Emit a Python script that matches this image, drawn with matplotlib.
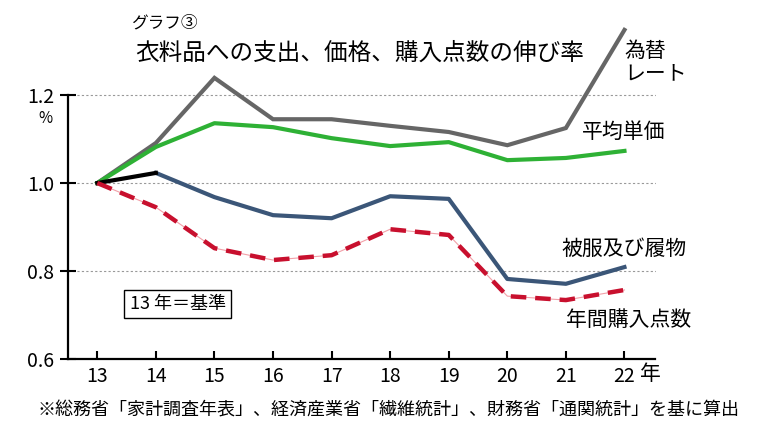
import matplotlib
matplotlib.use("Agg")
import matplotlib.pyplot as plt
from matplotlib.transforms import blended_transform_factory

plt.rcParams['font.family'] = ['Noto Sans CJK JP', 'DejaVu Sans']

years = [13, 14, 15, 16, 17, 18, 19, 20, 21, 22]
year_labels = ['13', '14', '15', '16', '17', '18', '19', '20', '21', '22']

# 伸び率 (13年=1.0)
kawase = [1.0, 1.091, 1.239, 1.145, 1.145, 1.130, 1.116, 1.086, 1.125, 1.348]
tanka = [1.0, 1.082, 1.136, 1.127, 1.102, 1.084, 1.093, 1.052, 1.057, 1.073]
hifuku = [1.0, 1.023, 0.968, 0.927, 0.920, 0.970, 0.964, 0.782, 0.771, 0.809]
tensu = [1.0, 0.945, 0.852, 0.825, 0.836, 0.895, 0.882, 0.743, 0.734, 0.757]

fig = plt.figure(figsize=(7.6, 4.4), dpi=100)
ax = fig.add_axes([0.0895, 0.184, 0.773, 0.76])

for yv in [0.8, 1.0, 1.2]:
    ax.axhline(yv, color='#999999', lw=0.8, ls=(0, (2, 2)), zorder=1)

ax.plot(years, kawase, color='#666666', lw=3, zorder=3, solid_joinstyle='miter')
ax.plot(years, tanka, color='#2eb135', lw=3, zorder=4)
ax.plot(years[1:], hifuku[1:], color='#3b5678', lw=3, zorder=4)
ax.plot(years[:2], hifuku[:2], color='black', lw=3, zorder=5)
ax.plot(years, tensu, color='#f2a0a8', lw=0.8, zorder=4)
ax.plot(years, tensu, color='#c8102e', lw=3.2, ls=(0, (3.5, 2)), zorder=5)

ax.set_xlim(12.5, 22.53)
ax.set_ylim(0.6, 1.36)
ax.set_xticks(years)
ax.set_xticklabels(year_labels)
ax.set_yticks([0.6, 0.8, 1.0, 1.2])
ax.set_yticklabels(['0.6', '0.8', '1.0', '1.2'])
ax.tick_params(axis='x', direction='in', length=6, width=1.5, labelsize=14, pad=5)
ax.tick_params(axis='y', direction='inout', length=12, width=1.5, labelsize=14, pad=4)

for s in ['top', 'right']:
    ax.spines[s].set_visible(False)
ax.spines['left'].set_linewidth(1.6)
ax.spines['bottom'].set_linewidth(1.6)
ax.spines['left'].set_bounds(0.6, 1.2)

ax.text(-0.039, 0.72, '%', transform=ax.transAxes, fontsize=11, ha='center', va='center')
trans = blended_transform_factory(ax.transData, ax.transAxes)
ax.text(22.26, -0.045, '年', transform=trans, fontsize=15, ha='left', va='center')

ax.text(22.0, 1.275, '為替\nレート', fontsize=15, ha='left', va='center', linespacing=1.0)
ax.text(21.27, 1.115, '平均単価', fontsize=15, ha='left', va='center')
ax.text(20.92, 0.851, '被服及び履物', fontsize=15, ha='left', va='center')
ax.text(21.0, 0.688, '年間購入点数', fontsize=15, ha='left', va='center')

ax.text(13.55, 0.725, '13 年＝基準', fontsize=13, ha='left', va='center',
        bbox=dict(boxstyle='square,pad=0.3', fc='white', ec='black', lw=1))

fig.text(0.172, 0.947, 'グラフ③', fontsize=12, ha='left', va='center')
fig.text(0.178, 0.88, '衣料品への支出、価格、購入点数の伸び率', fontsize=17, ha='left', va='center')
fig.text(0.05, 0.068, '※総務省「家計調査年表」、経済産業省「繊維統計」、財務省「通関統計」を基に算出',
         fontsize=13, ha='left', va='center')

fig.savefig('out.png', dpi=100)
